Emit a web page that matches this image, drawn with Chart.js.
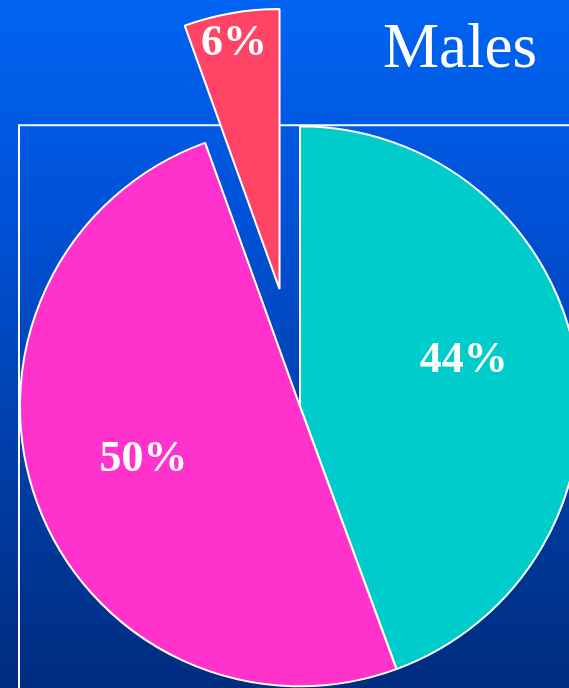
<!DOCTYPE html>
<html>
<head>
<meta charset="utf-8">
<script src="https://cdn.jsdelivr.net/npm/chart.js@4"></script>
<style>
    html, body {
        margin: 0;
        padding: 0;
        width: 569px;
        height: 688px;
        overflow: hidden;
    }
    body {
        background: linear-gradient(to bottom, #0064F2 0%, #0052D8 30%, #003FAA 65%, #002C7E 100%);
    }
    #wrap {
        position: relative;
        width: 569px;
        height: 688px;
    }
</style>
</head>
<body>
<div id="wrap"><canvas id="chart"></canvas></div>
<script>
const categories = ["Group 1", "Group 2", "Group 3"];
const shares = [44.4, 50.1, 5.5];
const sliceColors = ["#00CCCC", "#FF33CC", "#FF4466"];

// how far each slice is pulled out of the pie, and where its label sits
const explode = [0, 0, 119];
const labelRadius = [0.607, 0.59, 0.893];
const labelAngle = [0.465, 0.507, 0.47];

const PIE_RADIUS = 280;
const SERIF = "'Liberation Serif', 'Times New Roman', serif";

const explodePlugin = {
    id: "explode",
    afterDatasetsUpdate(chart) {
        const arcs = chart.getDatasetMeta(0).data;
        arcs.forEach((arc, i) => {
            if (!explode[i]) return;
            const mid = (arc.startAngle + arc.endAngle) / 2;
            arc.x += Math.cos(mid) * explode[i];
            arc.y += Math.sin(mid) * explode[i];
        });
    }
};

const framePlugin = {
    id: "frame",
    beforeDatasetsDraw(chart) {
        const arc = chart.getDatasetMeta(0).data[0];
        const left = arc.x - arc.outerRadius - 1;
        const top = arc.y - arc.outerRadius - 1;
        const ctx = chart.ctx;
        ctx.save();
        ctx.strokeStyle = "#FFFFFF";
        ctx.lineWidth = 2;
        ctx.beginPath();
        ctx.moveTo(left, chart.height + 5);
        ctx.lineTo(left, top);
        ctx.lineTo(chart.width + 5, top);
        ctx.stroke();
        ctx.restore();
    }
};

const labelPlugin = {
    id: "pctLabels",
    afterDatasetsDraw(chart) {
        const total = shares.reduce((a, b) => a + b, 0);
        const ctx = chart.ctx;
        ctx.save();
        ctx.fillStyle = "#FFFFFF";
        ctx.font = "bold 44px " + SERIF;
        ctx.textAlign = "center";
        ctx.textBaseline = "middle";
        chart.getDatasetMeta(0).data.forEach((arc, i) => {
            const a = arc.startAngle + (arc.endAngle - arc.startAngle) * labelAngle[i];
            const r = arc.outerRadius * labelRadius[i];
            const text = Math.round(shares[i] / total * 100) + "%";
            ctx.fillText(text, arc.x + Math.cos(a) * r, arc.y + Math.sin(a) * r);
        });
        ctx.restore();
    }
};

new Chart(document.getElementById("chart"), {
    type: "pie",
    data: {
        labels: categories,
        datasets: [{
            data: shares,
            backgroundColor: sliceColors,
            borderColor: "#FFFFFF",
            borderWidth: 2,
            clip: false
        }]
    },
    options: {
        responsive: true,
        maintainAspectRatio: false,
        animation: false,
        radius: PIE_RADIUS,
        layout: {
            padding: { left: 63, right: 32, top: 0, bottom: 0 }
        },
        plugins: {
            legend: { display: false },
            tooltip: { enabled: false },
            title: {
                display: true,
                text: "Males",
                align: "end",
                color: "#FFFFFF",
                font: { family: SERIF, size: 63, weight: "normal", lineHeight: 1.2 },
                padding: { top: 13, bottom: 36 }
            }
        }
    },
    plugins: [explodePlugin, framePlugin, labelPlugin]
});
</script>
</body>
</html>
